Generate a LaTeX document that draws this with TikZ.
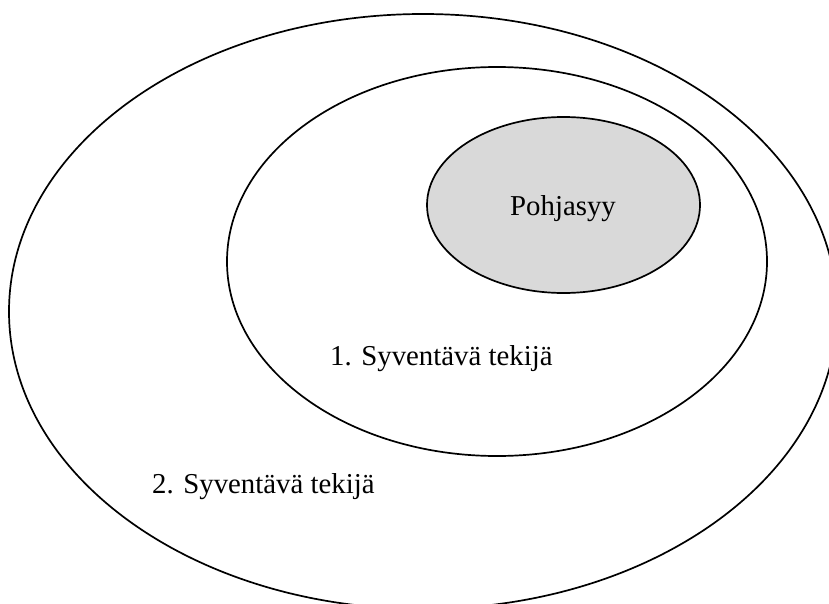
\documentclass[tikz,border=0pt]{standalone}
\usepackage{fontspec}
\setmainfont{Liberation Serif}
\usetikzlibrary{shapes.geometric}
\tikzset{
  ring/.style={draw=black, line width=1.7pt, ellipse, inner sep=0pt},
  core/.style={ring, fill=corefill},
  lbl/.style={inner sep=0pt, font=\fontsize{28.8}{34}\selectfont}
}
\definecolor{corefill}{HTML}{D9D9D9}
\begin{document}
\begin{tikzpicture}[x=1pt,y=-1pt]
\useasboundingbox (0,0) rectangle (829,604);
\clip (0,0) rectangle (829,604);
\node[ring, minimum width=828pt, minimum height=595pt] (outer) at (423,311.5) {};
\node[ring, minimum width=540pt, minimum height=389pt] (middle) at (497,261.5) {};
\node[core, minimum width=273pt, minimum height=176pt] (inner) at (563.5,205) {};
\node[lbl, anchor=base] (ptext) at (563,215) {Pohjasyy};
\node[lbl, anchor=base west] (t1) at (330,365) {1. Syventävä tekijä};
\node[lbl, anchor=base west] (t2) at (152,493) {2. Syventävä tekijä};
\end{tikzpicture}
\end{document}
